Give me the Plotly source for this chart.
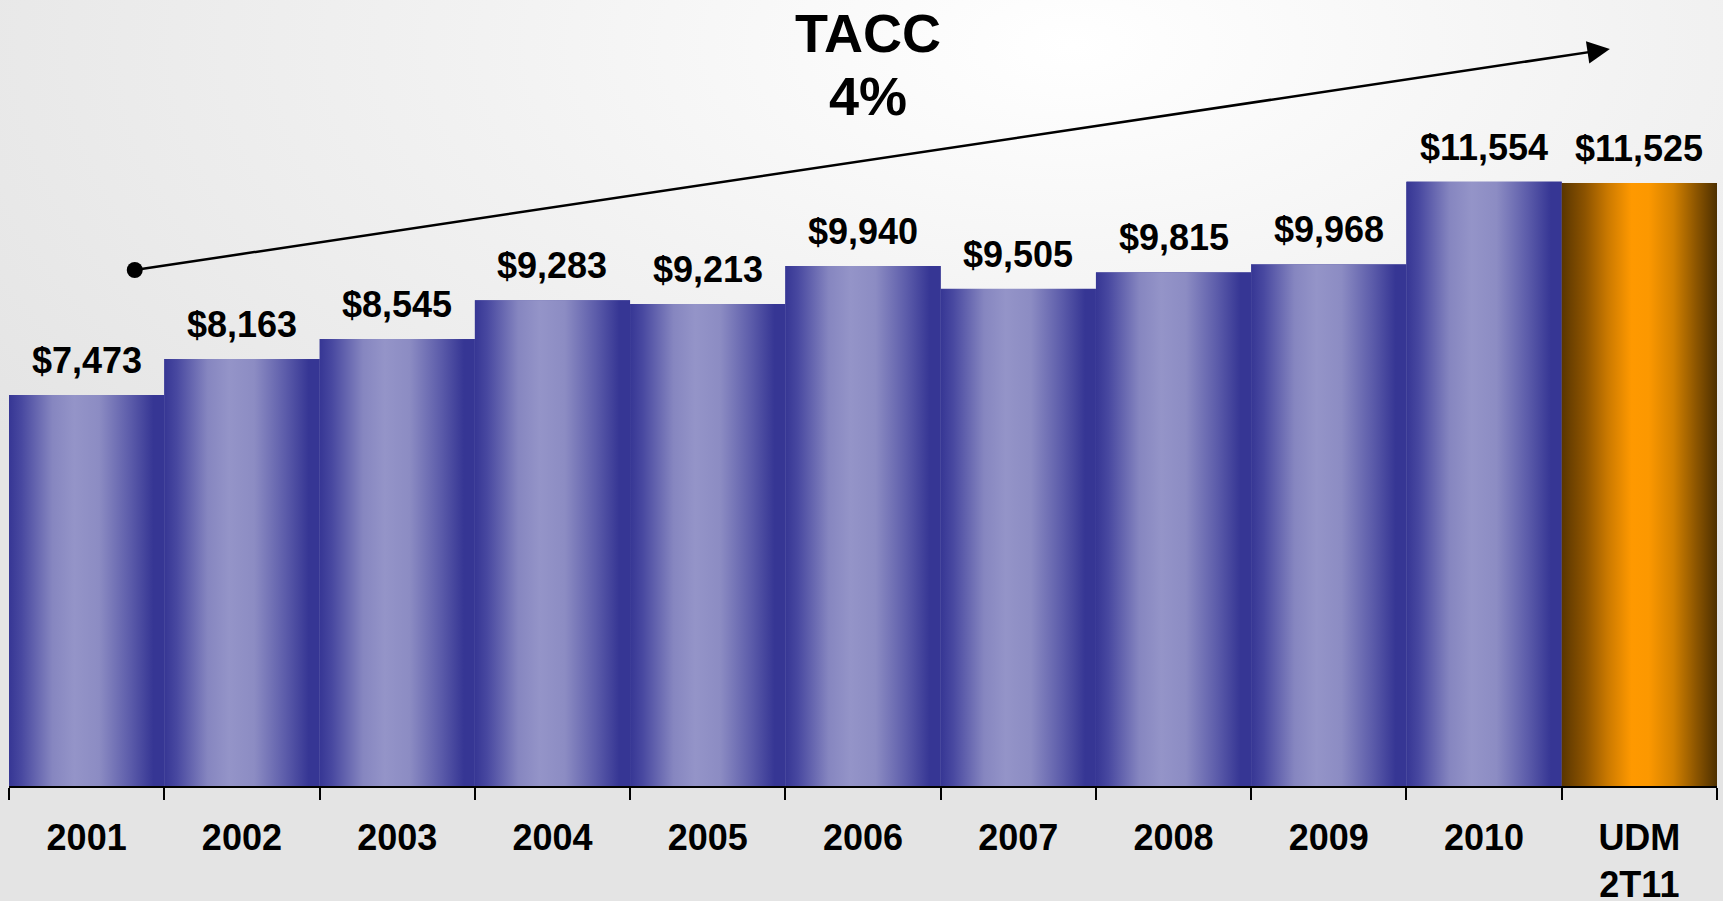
import base64
import plotly.graph_objects as go

# ---- data ----
categories = ["2001", "2002", "2003", "2004", "2005", "2006", "2007", "2008", "2009", "2010", "UDM<br>2T11"]
values = [7473, 8163, 8545, 9283, 9213, 9940, 9505, 9815, 9968, 11554, 11525]
highlight = [False] * 10 + [True]
cagr_title = "TACC"
cagr_value = "4%"

FONT = "Liberation Sans, Arial, sans-serif"

blue_scale = [[0.0, "#363694"], [0.08, "#4848a0"], [0.28, "#8686c0"], [0.42, "#9494c8"],
              [0.58, "#8c8cc3"], [0.78, "#5c5caa"], [0.93, "#363694"], [1.0, "#363694"]]
orange_scale = [[0.0, "#5a3600"], [0.15, "#8c5300"], [0.3, "#cc7a00"], [0.45, "#ff9900"],
                [0.56, "#fc9800"], [0.72, "#d28000"], [0.87, "#8a5400"], [1.0, "#4e3000"]]

fig = go.Figure()

# base bars (category axis)
fig.add_trace(go.Bar(
    x=categories, y=values,
    marker=dict(color=["#ff9900" if h else "#8080bb" for h in highlight], line=dict(width=0)),
    width=1.0, hoverinfo="skip", showlegend=False,
))

# gradient overlays for each bar, derived from the data
for i, (v, h) in enumerate(zip(values, highlight)):
    x0, x1 = i - 0.5, i + 0.5
    fig.add_trace(go.Scatter(
        x=[x0, x1, x1, x0, x0], y=[0, 0, v, v, 0],
        xaxis="x2", yaxis="y",
        mode="none", fill="toself",
        fillgradient=dict(type="horizontal", colorscale=orange_scale if h else blue_scale,
                          start=x0, stop=x1),
        hoverinfo="skip", showlegend=False,
    ))

# value labels
for i, v in enumerate(values):
    fig.add_annotation(x=i, y=v, xref="x2", yref="y", text=f"<b>${v:,}</b>",
                       showarrow=False, yanchor="bottom", yshift=12,
                       font=dict(family=FONT, size=36, color="black"))

# trend arrow
start_pt = (0.31, 9862)
end_pt = (9.81, 14086)
fig.add_trace(go.Scatter(x=[start_pt[0]], y=[start_pt[1]], xaxis="x2", yaxis="y",
                         mode="markers", marker=dict(color="black", size=16),
                         hoverinfo="skip", showlegend=False))
fig.add_annotation(x=end_pt[0], y=end_pt[1], ax=start_pt[0], ay=start_pt[1],
                   xref="x2", yref="y", axref="x2", ayref="y", text="",
                   showarrow=True, arrowhead=2, arrowsize=1.8, arrowwidth=2.5,
                   arrowcolor="black", standoff=0, startstandoff=0)

# CAGR text (two lines)
fig.add_annotation(x=0.503, y=(786 - 33) / 786, xref="paper", yref="paper", text=f"<b>{cagr_title}</b>",
                   showarrow=False, xanchor="center", yanchor="middle",
                   font=dict(family=FONT, size=54, color="black"))
fig.add_annotation(x=0.503, y=(786 - 96) / 786, xref="paper", yref="paper", text=f"<b>{cagr_value}</b>",
                   showarrow=False, xanchor="center", yanchor="middle",
                   font=dict(family=FONT, size=54, color="black"))

# background radial gradient
svg = ('<svg xmlns="http://www.w3.org/2000/svg" width="1000" height="1000" viewBox="0 0 1000 1000" '
       'preserveAspectRatio="none"><defs><radialGradient id="g" cx="0.62" cy="0.05" r="0.75">'
       '<stop offset="0" stop-color="#ffffff"/><stop offset="0.45" stop-color="#f2f2f2"/>'
       '<stop offset="1" stop-color="#e4e4e4"/></radialGradient></defs>'
       '<rect width="1000" height="1000" fill="url(#g)"/></svg>')
src = "data:image/svg+xml;base64," + base64.b64encode(svg.encode()).decode()
fig.add_layout_image(dict(source=src, xref="paper", yref="paper", x=-0.01, y=1.0,
                          sizex=1.02, sizey=1.15, xanchor="left", yanchor="top",
                          sizing="stretch", layer="below"))

fig.update_layout(
    width=1723, height=901,
    margin=dict(l=9, r=6, t=0, b=115, autoexpand=False),
    paper_bgcolor="#ebebeb", plot_bgcolor="rgba(0,0,0,0)",
    bargap=0, showlegend=False,
    xaxis=dict(type="category", range=[-0.5, 10.5], tickson="boundaries",
               ticks="outside", ticklen=12, tickwidth=2, tickcolor="black",
               showline=True, linecolor="black", linewidth=2, showgrid=False,
               tickvals=categories, ticktext=[f"<b>{c}</b>" for c in categories],
               tickfont=dict(family=FONT, size=36, color="black"),
               ticklabelstandoff=19, automargin=False, fixedrange=True),
    xaxis2=dict(overlaying="x", range=[-0.5, 10.5], visible=False, fixedrange=True),
    yaxis=dict(range=[0, 15023], visible=False, showgrid=False, automargin=False, fixedrange=True),
)

fig.write_html("out.html", config={"displayModeBar": False},
               post_script="document.body.style.margin='0';document.body.style.overflow='hidden';")
